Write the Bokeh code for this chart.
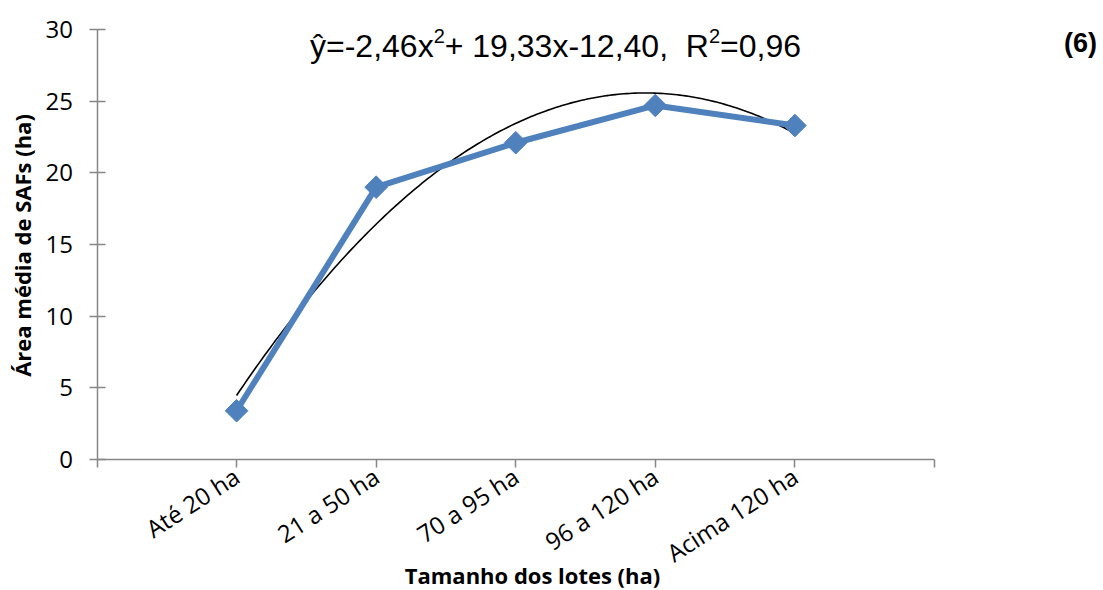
import numpy as np
from bokeh.plotting import figure
from bokeh.models import Range1d, Label, FixedTicker, ColumnDataSource
from bokeh.embed import file_html
from bokeh.resources import INLINE

# ---- data ----
categories = ["Até 20 ha", "21 a 50 ha", "70 a 95 ha", "96 a 120 ha", "Acima 120 ha"]
area_media = [3.4, 19.0, 22.1, 24.7, 23.3]
# trend (polynomial, order 2) as stated on the chart
coef_a = -2.46
coef_b = 19.33
coef_c = -12.40
# equation text pieces: (text, is_superscript)
equation_parts = [("ŷ=-2,46x", False), ("2", True), ("+ 19,33x-12,40,\u00a0\u00a0R", False),
                  ("2", True), ("=0,96", False)]
panel_tag = "(6)"
x_title = "Tamanho dos lotes (ha)"
y_title = "Área média de SAFs (ha)"
y_ticks = [0, 5, 10, 15, 20, 25, 30]
y_max = 30

W, H = 1103, 590
n = len(categories)
xpos = list(range(1, n + 1))

# pixel layout of the axes box (page pixels)
ax_left, ax_right, ax_top, ax_bottom = 96.5, 934.0, 29.0, 459.0
kx = (ax_right - ax_left) / (n + 1)
ky = (ax_bottom - ax_top) / y_max


def px(xp):
    return (xp - ax_left) / kx


def py(yp):
    return (ax_bottom - yp) / ky


p = figure(width=W, height=H, output_backend="svg", toolbar_location=None,
           x_range=Range1d(px(0), px(W)), y_range=Range1d(py(H), py(0)),
           min_border=0)
p.title.visible = False
p.outline_line_color = None
p.xgrid.visible = False
p.ygrid.visible = False
p.background_fill_color = "white"
p.border_fill_color = "white"

axis_col = "#868686"
font = "Open Sans"

# x axis
xa = p.xaxis[0]
xa.fixed_location = 0
xa.bounds = (0, n + 1)
xa.ticker = FixedTicker(ticks=list(range(0, n + 2)))
overrides = {0: "", n + 1: ""}
for i, c in enumerate(categories):
    overrides[i + 1] = c
xa.major_label_overrides = overrides
xa.major_label_orientation = 0.575
xa.axis_line_color = axis_col
xa.axis_line_width = 1.5
xa.major_tick_line_color = axis_col
xa.major_tick_line_width = 1.5
xa.major_tick_in = 0
xa.major_tick_out = 8
xa.minor_tick_line_color = None
xa.major_label_text_font = font
xa.major_label_text_font_size = "24px"
xa.major_label_text_color = "black"
xa.major_label_standoff = 6

# y axis
ya = p.yaxis[0]
ya.fixed_location = 0
ya.bounds = (0, y_max)
ya.ticker = FixedTicker(ticks=y_ticks)
ya.axis_line_color = axis_col
ya.axis_line_width = 1.5
ya.major_tick_line_color = axis_col
ya.major_tick_line_width = 1.5
ya.major_tick_in = 8
ya.major_tick_out = 8
ya.minor_tick_line_color = None
ya.major_label_text_font = font
ya.major_label_text_font_size = "24px"
ya.major_label_text_color = "black"
ya.major_label_standoff = 16

# trend curve
xt = np.linspace(xpos[0], xpos[-1], 200)
yt = coef_a * xt ** 2 + coef_b * xt + coef_c
p.line(xt, yt, line_color="black", line_width=1.6)

# data series
src = ColumnDataSource(dict(x=xpos, y=area_media))
p.line("x", "y", source=src, line_color="#4F81BD", line_width=6, line_join="round")
p.scatter("x", "y", source=src, marker="square", angle=np.pi / 4, size=16,
          fill_color="#4F81BD", line_color="#4F81BD")

# equation (Arial-metric widths, per 1000 em)
arial_w = {"0": 556, "1": 556, "2": 556, "3": 556, "4": 556, "5": 556, "6": 556,
           "7": 556, "8": 556, "9": 556, ",": 278, "-": 333, "=": 584, "+": 584,
           "x": 500, "ŷ": 500, " ": 278, "\u00a0": 278, "R": 722}
main_fs, sup_fs = 32, 20
widths = []
for t, sup in equation_parts:
    fs = sup_fs if sup else main_fs
    widths.append(sum(arial_w.get(ch, 556) for ch in t) * fs / 1000.0)
total_w = sum(widths)
start = 555 - total_w / 2
base_y = 45.5
off = 0.0
for (t, sup), w in zip(equation_parts, widths):
    fs = sup_fs if sup else main_fs
    p.add_layout(Label(x=px(start), y=py(base_y - (10.5 if sup else 0)), x_offset=off,
                       text=t, text_align="left", text_baseline="alphabetic",
                       text_font="Liberation Sans", text_font_size=f"{fs}px",
                       text_color="black"))
    off += w

p.add_layout(Label(x=px(1080), y=py(42), text=panel_tag, text_align="center",
                   text_baseline="middle", text_font="Liberation Sans",
                   text_font_style="bold", text_font_size="27px", text_color="black"))
p.add_layout(Label(x=px(532), y=py(574), text=x_title, text_align="center",
                   text_baseline="middle", text_font=font, text_font_style="bold",
                   text_font_size="22px", text_color="black"))
p.add_layout(Label(x=px(21), y=py(245), text=y_title, text_align="center",
                   text_baseline="middle", angle=np.pi / 2, text_font=font,
                   text_font_style="bold", text_font_size="22px", text_color="black"))

open("out.html", "w").write(file_html(p, INLINE))
